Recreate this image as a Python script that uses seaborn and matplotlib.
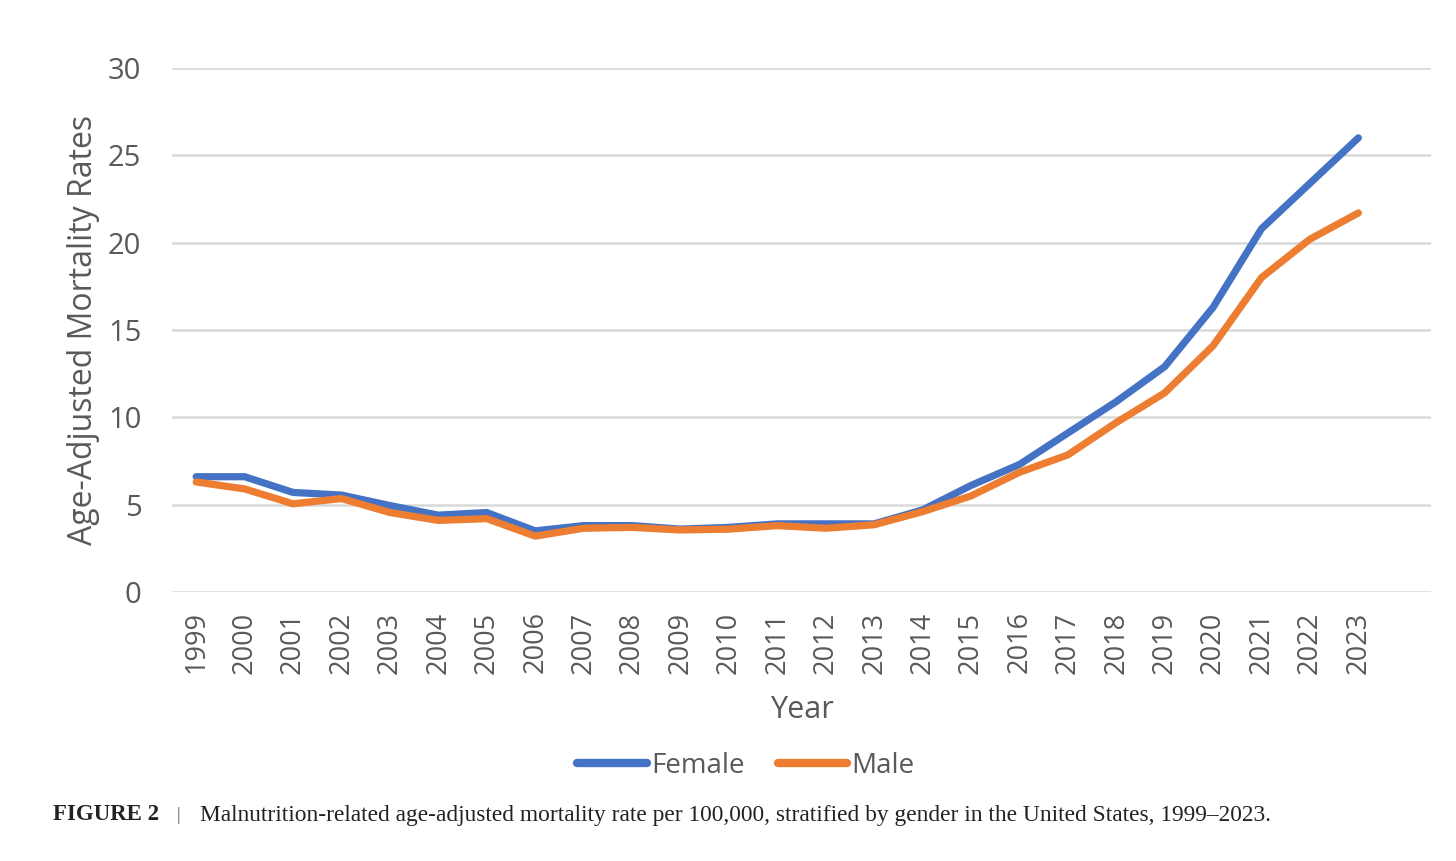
import numpy as np
import pandas as pd
import matplotlib
matplotlib.use("Agg")
import matplotlib.pyplot as plt
import seaborn as sns

YEARS = list(range(1999, 2024))
FEMALE = [6.6, 6.6, 5.7, 5.55, 4.95, 4.4, 4.55, 3.5, 3.8, 3.8, 3.6, 3.7, 3.9, 3.9, 3.9,
          4.7, 6.1, 7.3, 9.1, 10.9, 12.9, 16.3, 20.8, 23.4, 26.0]
MALE = [6.3, 5.9, 5.05, 5.35, 4.55, 4.1, 4.2, 3.2, 3.65, 3.7, 3.55, 3.6, 3.8, 3.65, 3.85,
        4.6, 5.5, 6.85, 7.85, 9.7, 11.4, 14.1, 18.0, 20.2, 21.7]
SERIES = ["Female", "Male"]
COLORS = ["#4472C4", "#ED7D31"]

df = pd.DataFrame({
    "pos": list(range(len(YEARS))) * 2,
    "rate": FEMALE + MALE,
    "sex": [SERIES[0]] * len(YEARS) + [SERIES[1]] * len(YEARS),
})

sns.set_theme(style="white")
plt.rcParams["font.family"] = ["Open Sans", "DejaVu Sans"]
TXT = "#595959"
SERIF = ["Liberation Serif", "DejaVu Serif"]

fig = plt.figure(figsize=(14.56, 8.61), dpi=100)
ax = fig.add_axes([172 / 1456, 1 - 592 / 861, (1431 - 172) / 1456, (592 - 68) / 861])

sns.lineplot(data=df, x="pos", y="rate", hue="sex", palette=COLORS, linewidth=5.2,
             ax=ax, legend=False, solid_capstyle="round")

ax.set_ylim(0, 30)
ax.set_xlim(-0.5, 25.5)
ax.set_yticks(range(0, 31, 5))
ax.set_xticks(range(len(YEARS)))
ax.set_xticklabels([str(y) for y in YEARS], rotation=90)
ax.yaxis.grid(True, color="#d9d9d9", linewidth=1.8)
ax.xaxis.grid(False)
for s in ax.spines.values():
    s.set_visible(False)
ax.tick_params(axis="y", labelsize=21, colors=TXT, length=0, pad=22)
ax.tick_params(axis="x", labelsize=19.5, colors=TXT, length=0, pad=14)
ax.set_ylabel("Age-Adjusted Mortality Rates", fontsize=23, color=TXT, labelpad=6)
ax.set_xlabel("Year", fontsize=22, color=TXT, labelpad=15)

handles = [plt.Line2D([], [], color=c, linewidth=6, solid_capstyle="round") for c in COLORS]
fig.legend(handles, SERIES, loc="center", bbox_to_anchor=(746 / 1456, 1 - 766 / 861),
           ncol=2, frameon=False, fontsize=20, handlelength=2.5, handletextpad=0.15,
           columnspacing=1.2, labelcolor=TXT)

fig.text(53 / 1456, 1 - 815 / 861, "FIGURE 2", fontsize=16.5, fontweight="bold",
         family=SERIF, va="center", color="#222222")
fig.text(177 / 1456, 1 - 815 / 861, "|", fontsize=13,
         family=SERIF, va="center", color="#555555")
fig.text(200 / 1456, 1 - 815 / 861,
         "Malnutrition-related age-adjusted mortality rate per 100,000, stratified by gender in the United States, 1999\u20132023.",
         fontsize=16.8, family=SERIF, va="center", color="#222222")

fig.savefig("out.png", dpi=100)
